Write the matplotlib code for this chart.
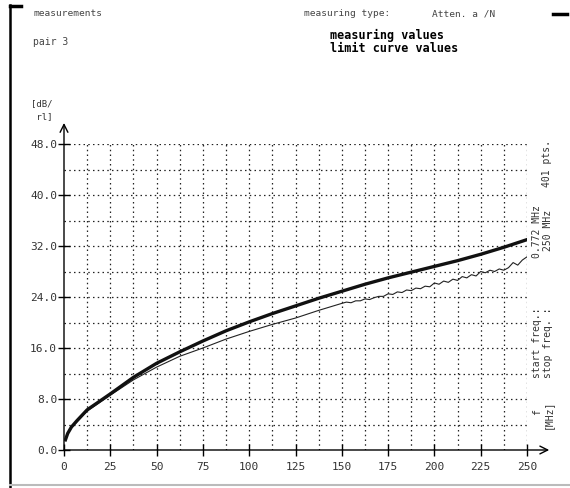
import matplotlib
matplotlib.use("Agg")
import matplotlib.pyplot as plt
from matplotlib.lines import Line2D

# limit curve (thick, smooth)
freq_limit = [0.772, 2, 4, 7, 12.5, 25, 37.5, 50, 62.5, 75, 87.5, 100, 112.5, 125,
              137.5, 150, 162.5, 175, 187.5, 200, 212.5, 225, 237.5, 250]
att_limit = [1.6, 2.6, 3.6, 4.6, 6.3, 8.8, 11.4, 13.6, 15.4, 17.1, 18.7, 20.1, 21.4, 22.6,
             23.8, 24.9, 26.0, 27.0, 27.9, 28.8, 29.7, 30.7, 31.8, 33.0]

# measured values (thin, noisy at high freq)
freq_meas = [0.772, 2, 4, 7, 12.5, 25, 37.5, 50, 62.5, 75, 87.5, 100, 112.5, 125, 137.5, 150,
             152.5, 155, 157.5, 160, 162.5, 165, 167.5, 170, 172.5, 175, 177.5, 180, 182.5,
             185, 187.5, 190, 192.5, 195, 197.5, 200, 202.5, 205, 207.5, 210, 212.5, 215,
             217.5, 220, 222.5, 225, 227.5, 230, 232.5, 235, 237.5, 240, 242.5, 245, 247.5, 250]
att_meas = [1.5, 2.5, 3.5, 4.4, 6.1, 8.6, 11.0, 13.0, 14.7, 16.0, 17.4, 18.6, 19.7, 20.7, 21.9, 23.0,
            23.2, 23.1, 23.4, 23.4, 23.7, 23.6, 23.9, 24.1, 24.1, 24.5, 24.4, 24.8, 24.7,
            25.1, 25.0, 25.4, 25.3, 25.7, 25.6, 26.2, 26.0, 26.5, 26.3, 26.8, 26.6, 27.2,
            27.0, 27.5, 27.3, 28.0, 27.8, 28.2, 28.0, 28.4, 28.2, 28.6, 29.4, 29.0, 29.8, 30.3]

xticks = [0, 25, 50, 75, 100, 125, 150, 175, 200, 225, 250]
yticks = [0, 8, 16, 24, 32, 40, 48]

mono = "DejaVu Sans Mono"
W, H = 570, 488

fig = plt.figure(figsize=(5.7, 4.88), dpi=100)
ax = fig.add_axes([64 / W, 1 - 450 / H, (527 - 64) / W, (450 - 144) / H])
ax.set_xlim(0, 250)
ax.set_ylim(0, 48)
for s in ax.spines.values():
    s.set_visible(False)

# dotted grid
for gx in [12.5 * i for i in range(1, 21)]:
    ax.plot([gx, gx], [0, 48], color="#222222", lw=0.9, ls=(0, (1.2, 2.6)), zorder=1)
for gy in [4 * i for i in range(1, 13)]:
    ax.plot([0, 250], [gy, gy], color="#222222", lw=0.9, ls=(0, (1.2, 2.6)), zorder=1)

ax.plot(freq_meas, att_meas, color="#222222", lw=0.8, zorder=3)
ax.plot(freq_limit, att_limit, color="#111111", lw=2.4, zorder=4)

# axes with arrows
ax.annotate("", xy=(262, 0), xytext=(0, 0), annotation_clip=False,
            arrowprops=dict(arrowstyle="->", lw=1.0, color="k", mutation_scale=14, shrinkA=0, shrinkB=0))
ax.annotate("", xy=(0, 51.3), xytext=(0, 0), annotation_clip=False,
            arrowprops=dict(arrowstyle="->", lw=1.0, color="k", mutation_scale=14, shrinkA=0, shrinkB=0))

ax.set_xticks(xticks)
ax.set_xticklabels([str(t) for t in xticks], fontfamily=mono, fontsize=8, color="#333333")
ax.set_yticks(yticks)
ax.set_yticklabels(["%.1f" % t for t in yticks], fontfamily=mono, fontsize=8, color="#333333")
ax.tick_params(axis="x", direction="inout", length=9, width=1, pad=4)
ax.tick_params(axis="y", direction="inout", length=8, width=1, pad=1)


def ftext(px, py, s, **kw):
    fig.text(px / W, 1 - py / H, s, fontfamily=mono, **kw)


ftext(33, 14, "measurements", fontsize=6.8, color="#444444", va="center")
ftext(33, 42, "pair 3", fontsize=7, color="#444444", va="center")
ftext(304, 14, "measuring type:", fontsize=6.8, color="#444444", va="center")
ftext(432, 14, "Atten. a /N", fontsize=6.8, color="#444444", va="center")
ftext(330, 35, "measuring values", fontsize=8.5, fontweight="bold", va="center")
ftext(330, 48, "limit curve values", fontsize=8.5, fontweight="bold", va="center")
ftext(31, 104, "[dB/", fontsize=6.5, color="#333333", va="center")
ftext(31, 117, " rl]", fontsize=6.5, color="#333333", va="center")

ftext(547, 163, "401 pts.", fontsize=7, rotation=90, ha="center", va="center", color="#333333")
ftext(537, 232, "0.772 MHz", fontsize=7, rotation=90, ha="center", va="center", color="#333333")
ftext(548, 230, "250 MHz", fontsize=7, rotation=90, ha="center", va="center", color="#333333")
ftext(537, 343, "start freq.:", fontsize=7, rotation=90, ha="center", va="center", color="#333333")
ftext(548, 343, "stop freq. :", fontsize=7, rotation=90, ha="center", va="center", color="#333333")
ftext(537, 412, "f", fontsize=7, rotation=90, ha="center", va="center", color="#333333")
ftext(548, 414, "[MHz]", fontsize=7, rotation=90, ha="center", va="center", color="#333333")

# frame marks
fig.add_artist(Line2D([10 / W, 10 / W], [1 - 5 / H, 0], color="k", lw=1.8))
fig.add_artist(Line2D([10 / W, 21 / W], [1 - 6 / H, 1 - 6 / H], color="k", lw=2.5))
fig.add_artist(Line2D([553 / W, 567 / W], [1 - 14 / H, 1 - 14 / H], color="k", lw=2.5))
fig.add_artist(Line2D([10 / W, 1], [1 - 485 / H, 1 - 485 / H], color="#bbbbbb", lw=1.5))

fig.savefig("out.png", dpi=100)
